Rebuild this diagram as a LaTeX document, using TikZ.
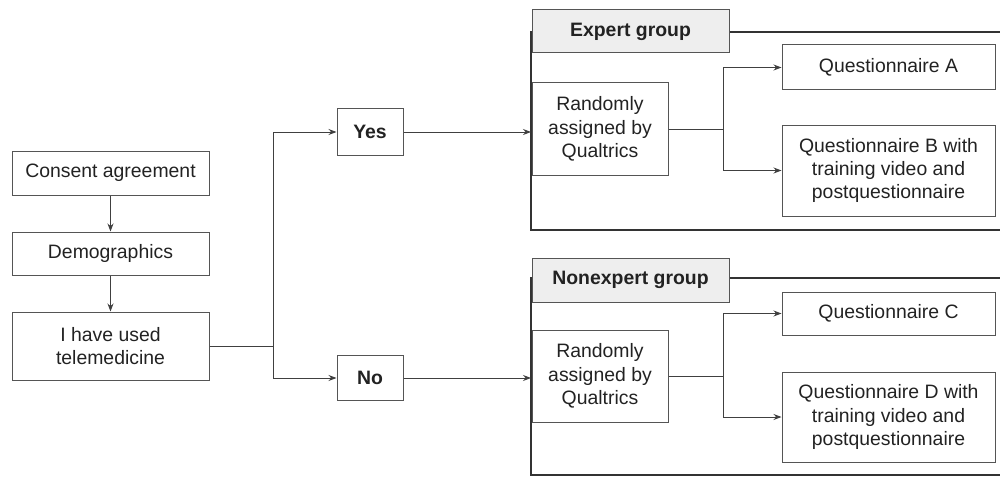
\documentclass[tikz,border=0pt]{standalone}
\usepackage{fontspec}
\setmainfont{Liberation Sans}
\usetikzlibrary{arrows.meta}
\definecolor{boxline}{HTML}{555555}
\definecolor{txt}{HTML}{222222}
\definecolor{labelfill}{HTML}{EEEEEE}
\tikzset{
  flowbox/.style={draw=boxline, line width=0.5pt, text=txt, align=center, inner sep=0pt,
    font=\fontsize{9.7}{11.7}\selectfont},
  groupbox/.style={flowbox, fill=labelfill, font=\fontsize{9.7}{11.7}\selectfont\bfseries},
  frameline/.style={draw=black!80, line width=1.1pt},
  link/.style={draw=black!75, line width=0.5pt},
  arrowlink/.style={link, -{Stealth[length=4pt,width=3pt]}}
}
\begin{document}
\begin{tikzpicture}[x=0.5pt,y=0.5pt,yscale=-1,xscale=1]
\useasboundingbox (0,0) rectangle (1000,476);
%Left column
\node [flowbox, minimum width=98.5pt, minimum height=22pt] (consent) at (110.5,173) {Consent agreement};
\node [flowbox, minimum width=98.5pt, minimum height=21.5pt] (demo) at (110.5,253.5) {Demographics};
\node [flowbox, minimum width=98.5pt, minimum height=34pt] (used) at (110.5,346) {I have used\\telemedicine};
%Yes / No
\node [flowbox, font=\fontsize{9.7}{11.7}\selectfont\bfseries, minimum width=33pt, minimum height=23pt] (yes) at (370,132) {Yes};
\node [flowbox, font=\fontsize{9.7}{11.7}\selectfont\bfseries, minimum width=33pt, minimum height=22.5pt] (no) at (370,378) {No};
%Expert group frame
\draw [frameline] (1010,32) -- (531,32) -- (531,230) -- (1010,230);
\node [groupbox, minimum width=98.5pt, minimum height=21.5pt] (expert) at (630.5,31.5) {Expert group};
\coordinate (expertin) at (531,132);
\node [flowbox, minimum width=68pt, minimum height=46pt] (rand1) at (600,129) {Randomly\\assigned by\\Qualtrics};
\node [flowbox, minimum width=106.5pt, minimum height=22.5pt] (qa) at (888.5,67.5) {Questionnaire A};
\node [flowbox, minimum width=106.5pt, minimum height=45.5pt] (qb) at (888.5,170.5) {Questionnaire B with\\training video and\\postquestionnaire};
%Nonexpert group frame
\draw [frameline] (1010,278) -- (531,278) -- (531,475) -- (1010,475);
\node [groupbox, minimum width=98.5pt, minimum height=22pt] (nonexpert) at (630.5,280) {Nonexpert group};
\coordinate (nonexpertin) at (531,378);
\node [flowbox, minimum width=68pt, minimum height=46pt] (rand2) at (600,376) {Randomly\\assigned by\\Qualtrics};
\node [flowbox, minimum width=106.5pt, minimum height=21.5pt] (qc) at (888.5,313.5) {Questionnaire C};
\node [flowbox, minimum width=106.5pt, minimum height=45pt] (qd) at (888.5,417) {Questionnaire D with\\training video and\\postquestionnaire};
%Connectors
\draw [arrowlink] (consent) -- (demo);
\draw [arrowlink] (demo) -- (used);
\draw [link] (used.east) -- (273,346);
\draw [arrowlink] (273,346) |- (yes.west);
\draw [arrowlink] (273,346) |- (no.west);
\draw [arrowlink] (yes) -- (expertin);
\draw [arrowlink] (no) -- (nonexpertin);
\draw [link] (rand1.east) -- (723,129);
\draw [arrowlink] (723,129) |- (qa.west);
\draw [arrowlink] (723,129) |- (qb.west);
\draw [link] (rand2.east) -- (723,376);
\draw [arrowlink] (723,376) |- (qc.west);
\draw [arrowlink] (723,376) |- (qd.west);
\end{tikzpicture}
\end{document}
